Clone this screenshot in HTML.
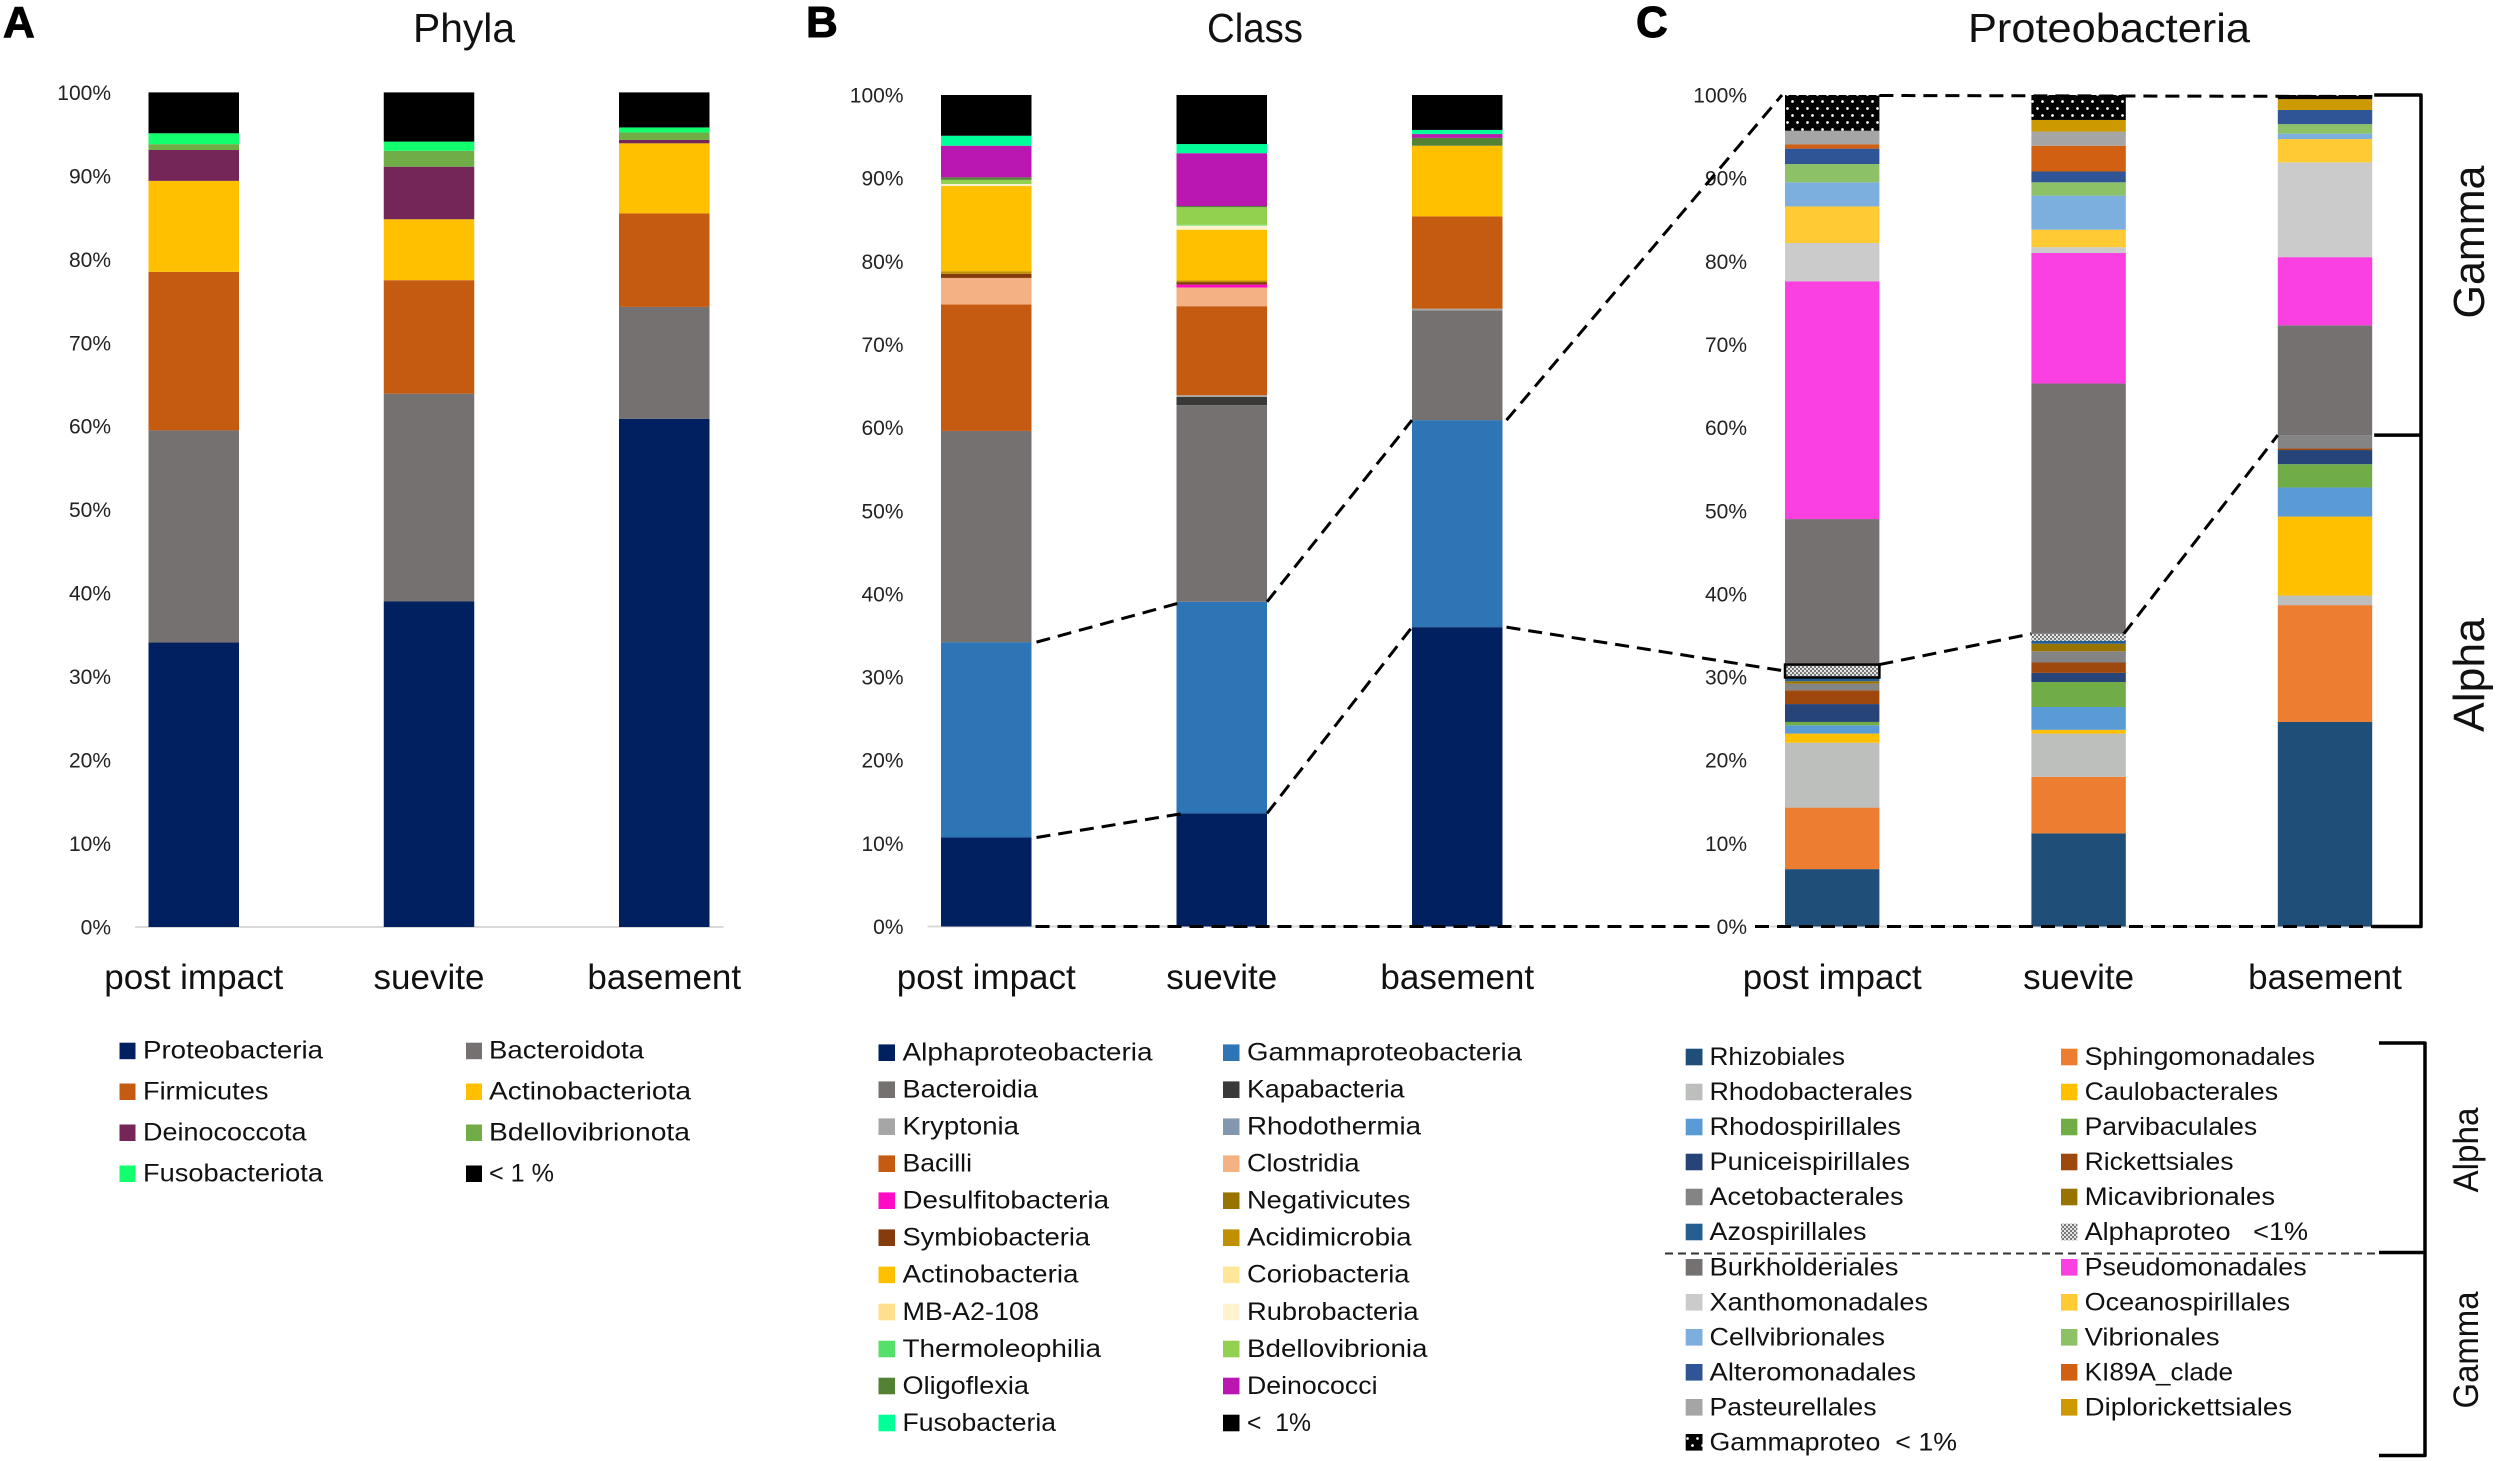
<!DOCTYPE html>
<html lang="en">
<head>
<meta charset="utf-8">
<title>Phyla, Class and Proteobacteria stacked bars</title>
<style>
html,body{margin:0;padding:0;background:#fff;width:2500px;height:1461px;overflow:hidden}
svg{display:block;font-family:"Liberation Sans",sans-serif;fill:#000}
.lt{font-size:25px;white-space:pre;fill:#111}
.tick{font-size:21px;fill:#222;text-anchor:end}
.cat{font-size:35px;fill:#111;text-anchor:middle}
.title{font-size:41px;fill:#111;text-anchor:middle}
.letter{font-size:44px;font-weight:bold;stroke:#000;stroke-width:1}
.side{fill:#111}
.conn{stroke:#000;stroke-width:3;stroke-dasharray:14 8;fill:none}
.brk{stroke:#000;stroke-width:3.5;fill:none;stroke-linejoin:round}
</style>
</head>
<body>
<svg id="figure" width="2500" height="1461" viewBox="0 0 2500 1461" xmlns="http://www.w3.org/2000/svg">
<defs>
<pattern id="alphaPattern" width="4" height="4" patternUnits="userSpaceOnUse">
<rect width="4" height="4" fill="#e4e4e4"/><rect width="2" height="2" fill="#777"/><rect x="2" y="2" width="2" height="2" fill="#777"/>
</pattern>
<pattern id="gammaPattern" width="10" height="14" patternUnits="userSpaceOnUse">
<rect width="10" height="14" fill="#000"/><circle cx="2.5" cy="3.5" r="1.35" fill="#fff"/><circle cx="7.5" cy="10.5" r="1.35" fill="#fff"/>
</pattern>
</defs>
<rect width="2500" height="1461" fill="#fff"/>

<text class="letter" x="3" y="37">A</text>
<text class="letter" x="806" y="37">B</text>
<text class="letter" x="1636" y="37">C</text>
<text class="title" x="464" y="42" textLength="102" lengthAdjust="spacingAndGlyphs">Phyla</text>
<text class="title" x="1255" y="42" textLength="96" lengthAdjust="spacingAndGlyphs">Class</text>
<text class="title" x="2109" y="42" textLength="282" lengthAdjust="spacingAndGlyphs">Proteobacteria</text>

<g id="chart-a"></g>
<g id="chart-b"></g>
<g id="chart-c"></g>
<g id="connectors"></g>

<text class="side" font-size="44" text-anchor="middle" transform="translate(2484 242) rotate(-90)" textLength="153" lengthAdjust="spacingAndGlyphs">Gamma</text>
<text class="side" font-size="44" text-anchor="middle" transform="translate(2484 675) rotate(-90)" textLength="114" lengthAdjust="spacingAndGlyphs">Alpha</text>

<g>
<g><rect x="119.5" y="1042.7" width="16" height="16.5" fill="#002060"/><text class="lt" x="143" y="1058.5" textLength="180" lengthAdjust="spacingAndGlyphs">Proteobacteria</text></g>
<g><rect x="119.5" y="1083.5" width="16" height="16.5" fill="#C55A11"/><text class="lt" x="143" y="1099.5" textLength="125.5" lengthAdjust="spacingAndGlyphs">Firmicutes</text></g>
<g><rect x="119.5" y="1124.5" width="16" height="16.5" fill="#732657"/><text class="lt" x="143" y="1140.5" textLength="163.5" lengthAdjust="spacingAndGlyphs">Deinococcota</text></g>
<g><rect x="119.5" y="1165.5" width="16" height="16.5" fill="#12FF6E"/><text class="lt" x="143" y="1181.5" textLength="180" lengthAdjust="spacingAndGlyphs">Fusobacteriota</text></g>
<g><rect x="466" y="1042.7" width="16" height="16.5" fill="#767171"/><text class="lt" x="489" y="1058.5" textLength="155" lengthAdjust="spacingAndGlyphs">Bacteroidota</text></g>
<g><rect x="466" y="1083.5" width="16" height="16.5" fill="#FFC000"/><text class="lt" x="489" y="1099.5" textLength="202" lengthAdjust="spacingAndGlyphs">Actinobacteriota</text></g>
<g><rect x="466" y="1124.5" width="16" height="16.5" fill="#70AD47"/><text class="lt" x="489" y="1140.5" textLength="201" lengthAdjust="spacingAndGlyphs">Bdellovibrionota</text></g>
<g><rect x="466" y="1165.5" width="16" height="16.5" fill="#000"/><text class="lt" x="489" y="1181.5" textLength="65" lengthAdjust="spacingAndGlyphs">&lt; 1 %</text></g>
</g>

<g>
<g><rect x="878.5" y="1044.4" width="16.5" height="16.6" fill="#002060"/><text class="lt" x="902.5" y="1060.5" textLength="250" lengthAdjust="spacingAndGlyphs">Alphaproteobacteria</text></g>
<g><rect x="878.5" y="1081.4" width="16.5" height="16.6" fill="#767171"/><text class="lt" x="902.5" y="1097.5" textLength="135.5" lengthAdjust="spacingAndGlyphs">Bacteroidia</text></g>
<g><rect x="878.5" y="1118.4" width="16.5" height="16.6" fill="#A6A6A6"/><text class="lt" x="902.5" y="1134.5" textLength="116.5" lengthAdjust="spacingAndGlyphs">Kryptonia</text></g>
<g><rect x="878.5" y="1155.4" width="16.5" height="16.6" fill="#C55A11"/><text class="lt" x="902.5" y="1171.5" textLength="69.5" lengthAdjust="spacingAndGlyphs">Bacilli</text></g>
<g><rect x="878.5" y="1192.4" width="16.5" height="16.6" fill="#FF0BC6"/><text class="lt" x="902.5" y="1208.5" textLength="206.5" lengthAdjust="spacingAndGlyphs">Desulfitobacteria</text></g>
<g><rect x="878.5" y="1229.4" width="16.5" height="16.6" fill="#843C0C"/><text class="lt" x="902.5" y="1245.5" textLength="187.5" lengthAdjust="spacingAndGlyphs">Symbiobacteria</text></g>
<g><rect x="878.5" y="1266.6" width="16.5" height="16.6" fill="#FFC000"/><text class="lt" x="902.5" y="1282.7" textLength="176" lengthAdjust="spacingAndGlyphs">Actinobacteria</text></g>
<g><rect x="878.5" y="1303.7" width="16.5" height="16.6" fill="#FFE08F"/><text class="lt" x="902.5" y="1319.8" textLength="136.5" lengthAdjust="spacingAndGlyphs">MB-A2-108</text></g>
<g><rect x="878.5" y="1340.7" width="16.5" height="16.6" fill="#55E06A"/><text class="lt" x="902.5" y="1356.8" textLength="198.5" lengthAdjust="spacingAndGlyphs">Thermoleophilia</text></g>
<g><rect x="878.5" y="1377.7" width="16.5" height="16.6" fill="#548235"/><text class="lt" x="902.5" y="1393.8" textLength="126.5" lengthAdjust="spacingAndGlyphs">Oligoflexia</text></g>
<g><rect x="878.5" y="1414.7" width="16.5" height="16.6" fill="#00FF99"/><text class="lt" x="902.5" y="1430.8" textLength="153.5" lengthAdjust="spacingAndGlyphs">Fusobacteria</text></g>
<g><rect x="1223" y="1044.4" width="16.5" height="16.6" fill="#2E75B6"/><text class="lt" x="1247" y="1060.5" textLength="275" lengthAdjust="spacingAndGlyphs">Gammaproteobacteria</text></g>
<g><rect x="1223" y="1081.4" width="16.5" height="16.6" fill="#3B3838"/><text class="lt" x="1247" y="1097.5" textLength="157.5" lengthAdjust="spacingAndGlyphs">Kapabacteria</text></g>
<g><rect x="1223" y="1118.4" width="16.5" height="16.6" fill="#8497B0"/><text class="lt" x="1247" y="1134.5" textLength="174" lengthAdjust="spacingAndGlyphs">Rhodothermia</text></g>
<g><rect x="1223" y="1155.4" width="16.5" height="16.6" fill="#F4B183"/><text class="lt" x="1247" y="1171.5" textLength="112.5" lengthAdjust="spacingAndGlyphs">Clostridia</text></g>
<g><rect x="1223" y="1192.4" width="16.5" height="16.6" fill="#997300"/><text class="lt" x="1247" y="1208.5" textLength="163.5" lengthAdjust="spacingAndGlyphs">Negativicutes</text></g>
<g><rect x="1223" y="1229.4" width="16.5" height="16.6" fill="#BF9000"/><text class="lt" x="1247" y="1245.5" textLength="164.5" lengthAdjust="spacingAndGlyphs">Acidimicrobia</text></g>
<g><rect x="1223" y="1266.6" width="16.5" height="16.6" fill="#FFE699"/><text class="lt" x="1247" y="1282.7" textLength="162.5" lengthAdjust="spacingAndGlyphs">Coriobacteria</text></g>
<g><rect x="1223" y="1303.7" width="16.5" height="16.6" fill="#FFF2CC"/><text class="lt" x="1247" y="1319.8" textLength="171.5" lengthAdjust="spacingAndGlyphs">Rubrobacteria</text></g>
<g><rect x="1223" y="1340.7" width="16.5" height="16.6" fill="#92D050"/><text class="lt" x="1247" y="1356.8" textLength="180.5" lengthAdjust="spacingAndGlyphs">Bdellovibrionia</text></g>
<g><rect x="1223" y="1377.7" width="16.5" height="16.6" fill="#B917B0"/><text class="lt" x="1247" y="1393.8" textLength="130.5" lengthAdjust="spacingAndGlyphs">Deinococci</text></g>
<g><rect x="1223" y="1414.7" width="16.5" height="16.6" fill="#000"/><text class="lt" x="1247" y="1430.8" textLength="64" lengthAdjust="spacingAndGlyphs">&lt;  1%</text></g>
</g>

<g>
<g><rect x="1685.7" y="1048.7" width="16.8" height="16.6" fill="#1F4E79"/><text class="lt" x="1709.5" y="1065" textLength="135.5" lengthAdjust="spacingAndGlyphs">Rhizobiales</text></g>
<g><rect x="1685.7" y="1083.7" width="16.8" height="16.6" fill="#BDBFBD"/><text class="lt" x="1709.5" y="1100" textLength="203" lengthAdjust="spacingAndGlyphs">Rhodobacterales</text></g>
<g><rect x="1685.7" y="1118.7" width="16.8" height="16.6" fill="#5B9BD5"/><text class="lt" x="1709.5" y="1135" textLength="191.5" lengthAdjust="spacingAndGlyphs">Rhodospirillales</text></g>
<g><rect x="1685.7" y="1153.7" width="16.8" height="16.6" fill="#264478"/><text class="lt" x="1709.5" y="1170" textLength="200.5" lengthAdjust="spacingAndGlyphs">Puniceispirillales</text></g>
<g><rect x="1685.7" y="1188.7" width="16.8" height="16.6" fill="#848484"/><text class="lt" x="1709.5" y="1205" textLength="194" lengthAdjust="spacingAndGlyphs">Acetobacterales</text></g>
<g><rect x="1685.7" y="1223.7" width="16.8" height="16.6" fill="#255E91"/><text class="lt" x="1709.5" y="1240" textLength="157" lengthAdjust="spacingAndGlyphs">Azospirillales</text></g>
<g><rect x="1685.7" y="1259" width="16.8" height="16.6" fill="#767171"/><text class="lt" x="1709.5" y="1275.3" textLength="189" lengthAdjust="spacingAndGlyphs">Burkholderiales</text></g>
<g><rect x="1685.7" y="1294" width="16.8" height="16.6" fill="#CBCBCB"/><text class="lt" x="1709.5" y="1310.3" textLength="218.5" lengthAdjust="spacingAndGlyphs">Xanthomonadales</text></g>
<g><rect x="1685.7" y="1329" width="16.8" height="16.6" fill="#7CAFDD"/><text class="lt" x="1709.5" y="1345.3" textLength="175.5" lengthAdjust="spacingAndGlyphs">Cellvibrionales</text></g>
<g><rect x="1685.7" y="1364" width="16.8" height="16.6" fill="#2F5597"/><text class="lt" x="1709.5" y="1380.3" textLength="206.5" lengthAdjust="spacingAndGlyphs">Alteromonadales</text></g>
<g><rect x="1685.7" y="1399" width="16.8" height="16.6" fill="#A5A5A5"/><text class="lt" x="1709.5" y="1415.3" textLength="167" lengthAdjust="spacingAndGlyphs">Pasteurellales</text></g>
<g><rect x="1685.7" y="1434" width="16.8" height="16.6" fill="url(#gammaPattern)"/><text class="lt" x="1709.5" y="1450.3" textLength="247.5" lengthAdjust="spacingAndGlyphs">Gammaproteo  &lt; 1%</text></g>
<g><rect x="2061" y="1048.7" width="16.4" height="16.6" fill="#ED7D31"/><text class="lt" x="2084.6" y="1065" textLength="230.5" lengthAdjust="spacingAndGlyphs">Sphingomonadales</text></g>
<g><rect x="2061" y="1083.7" width="16.4" height="16.6" fill="#FFC000"/><text class="lt" x="2084.6" y="1100" textLength="193.5" lengthAdjust="spacingAndGlyphs">Caulobacterales</text></g>
<g><rect x="2061" y="1118.7" width="16.4" height="16.6" fill="#70AD47"/><text class="lt" x="2084.6" y="1135" textLength="172.5" lengthAdjust="spacingAndGlyphs">Parvibaculales</text></g>
<g><rect x="2061" y="1153.7" width="16.4" height="16.6" fill="#9E480E"/><text class="lt" x="2084.6" y="1170" textLength="149" lengthAdjust="spacingAndGlyphs">Rickettsiales</text></g>
<g><rect x="2061" y="1188.7" width="16.4" height="16.6" fill="#997300"/><text class="lt" x="2084.6" y="1205" textLength="190.5" lengthAdjust="spacingAndGlyphs">Micavibrionales</text></g>
<g><rect x="2061" y="1223.7" width="16.4" height="16.6" fill="url(#alphaPattern)"/><text class="lt" x="2084.6" y="1240" textLength="223.5" lengthAdjust="spacingAndGlyphs">Alphaproteo   &lt;1%</text></g>
<g><rect x="2061" y="1259" width="16.4" height="16.6" fill="#FA40E0"/><text class="lt" x="2084.6" y="1275.3" textLength="222" lengthAdjust="spacingAndGlyphs">Pseudomonadales</text></g>
<g><rect x="2061" y="1294" width="16.4" height="16.6" fill="#FFCA33"/><text class="lt" x="2084.6" y="1310.3" textLength="205.5" lengthAdjust="spacingAndGlyphs">Oceanospirillales</text></g>
<g><rect x="2061" y="1329" width="16.4" height="16.6" fill="#8CC168"/><text class="lt" x="2084.6" y="1345.3" textLength="135" lengthAdjust="spacingAndGlyphs">Vibrionales</text></g>
<g><rect x="2061" y="1364" width="16.4" height="16.6" fill="#D26012"/><text class="lt" x="2084.6" y="1380.3" textLength="148.5" lengthAdjust="spacingAndGlyphs">KI89A_clade</text></g>
<g><rect x="2061" y="1399" width="16.4" height="16.6" fill="#CC9900"/><text class="lt" x="2084.6" y="1415.3" textLength="207.5" lengthAdjust="spacingAndGlyphs">Diplorickettsiales</text></g>
<line x1="1665" y1="1253.5" x2="2378" y2="1253.5" stroke="#333" stroke-width="2" stroke-dasharray="8 5"/>
<path class="brk" d="M2379 1043H2425V1455.5H2379M2379 1252.5H2425"/>
<text class="side" font-size="35" text-anchor="middle" transform="translate(2478 1150) rotate(-90)" textLength="85" lengthAdjust="spacingAndGlyphs">Alpha</text>
<text class="side" font-size="35" text-anchor="middle" transform="translate(2478 1350) rotate(-90)" textLength="117" lengthAdjust="spacingAndGlyphs">Gamma</text>
</g>
</svg>

<script>
const categories = ['post impact', 'suevite', 'basement'];
const yTickValues = [0, 10, 20, 30, 40, 50, 60, 70, 80, 90, 100];

const phylaSeries = ['Proteobacteria', 'Bacteroidota', 'Firmicutes', 'Actinobacteriota', 'Deinococcota', 'Bdellovibrionota', 'Fusobacteriota', 'below 1 percent'];
const phylaPostImpact = [34.1, 25.4, 19, 10.9, 3.7, 0.7, 1.3, 4.9];
const phylaSuevite = [39, 24.9, 13.6, 7.3, 6.3, 1.9, 1.1, 5.9];
const phylaBasement = [60.9, 13.4, 11.2, 8.4, 0.4, 0.9, 0.6, 4.2];
const phylaColors = ['#002060', '#767171', '#C55A11', '#FFC000', '#732657', '#70AD47', '#12FF6E', '#000000'];

const classSeries = ['Alphaproteobacteria', 'Gammaproteobacteria', 'Bacteroidia', 'Kapabacteria', 'Kryptonia', 'Rhodothermia', 'Bacilli', 'Clostridia', 'Desulfitobacteria', 'Negativicutes', 'Symbiobacteria', 'Acidimicrobia', 'Actinobacteria', 'Coriobacteria', 'MB-A2-108', 'Rubrobacteria', 'Thermoleophilia', 'Bdellovibrionia', 'Oligoflexia', 'Deinococci', 'Fusobacteria', 'below 1 percent'];
const classPostImpact = [10.7, 23.5, 25.4, 0, 0, 0, 15.2, 3.2, 0, 0, 0.5, 0.3, 10.25, 0, 0, 0.25, 0, 0.5, 0.3, 3.8, 1.2, 4.9];
const classSuevite = [13.6, 25.45, 23.65, 1, 0.2, 0, 10.7, 2.25, 0.35, 0, 0.3, 0.2, 6.1, 0, 0, 0.5, 0.1, 2.1, 0.15, 6.35, 1.1, 5.9];
const classBasement = [36, 24.9, 13.2, 0, 0.2, 0, 11.1, 0, 0, 0, 0, 0, 8.5, 0, 0, 0, 0, 0, 0.95, 0.45, 0.5, 4.2];
const classColors = ['#002060', '#2E75B6', '#767171', '#3B3838', '#A6A6A6', '#8497B0', '#C55A11', '#F4B183', '#FF0BC6', '#997300', '#843C0C', '#BF9000', '#FFC000', '#FFE699', '#FFE08F', '#FFF2CC', '#55E06A', '#92D050', '#548235', '#B917B0', '#00FF99', '#000000'];

const orderSeries = ['Rhizobiales', 'Sphingomonadales', 'Rhodobacterales', 'Caulobacterales', 'Rhodospirillales', 'Parvibaculales', 'Puniceispirillales', 'Rickettsiales', 'Acetobacterales', 'Micavibrionales', 'Azospirillales', 'Alphaproteo below 1 percent', 'Burkholderiales', 'Pseudomonadales', 'Xanthomonadales', 'Oceanospirillales', 'Cellvibrionales', 'Vibrionales', 'Alteromonadales', 'KI89A clade', 'Pasteurellales', 'Diplorickettsiales', 'Gammaproteo below 1 percent'];
const orderPostImpact = [6.9, 7.4, 7.8, 1.1, 1, 0.4, 2.15, 1.65, 0.8, 0.3, 0.45, 1.55, 17.5, 28.6, 4.6, 4.4, 2.9, 2.2, 1.85, 0.5, 1.65, 0, 4.3];
const orderSuevite = [11.2, 6.8, 5.2, 0.45, 2.75, 3, 1.1, 1.25, 1.35, 0.9, 0.35, 0.85, 30.1, 15.7, 0.7, 2.1, 4.1, 1.6, 1.3, 3.1, 1.7, 1.4, 3];
const orderBasement = [24.6, 14.05, 1.15, 9.5, 3.5, 2.8, 1.7, 0.2, 1.6, 0, 0, 0, 13.2, 8.2, 11.4, 2.8, 0.65, 1.15, 1.7, 0, 0, 1.3, 0.5];
const orderColors = ['#1F4E79', '#ED7D31', '#BDBFBD', '#FFC000', '#5B9BD5', '#70AD47', '#264478', '#9E480E', '#848484', '#997300', '#255E91', 'url(#alphaPattern)', '#767171', '#FA40E0', '#CBCBCB', '#FFCA33', '#7CAFDD', '#8CC168', '#2F5597', '#D26012', '#A5A5A5', '#CC9900', 'url(#gammaPattern)'];

const SVG_NS = 'http://www.w3.org/2000/svg';

function makeYScale(base, top) {
  return function (percent) { return base - percent * (base - top) / 100; };
}
function makeXScale(start, step) {
  return function (index) { return start + index * step; };
}
function stackTop(row, count) {
  let total = 0;
  for (let k = 0; k < count; k++) { total += row[k]; }
  return total;
}
function shape(tag, parent) {
  const el = document.createElementNS(SVG_NS, tag);
  parent.appendChild(el);
  return el;
}
function slug(text) {
  return text.toLowerCase().replace(/[^a-z0-9]+/g, '-');
}

function drawChart(opts) {
  const root = document.getElementById(opts.rootId);
  const y = opts.y;
  const x = opts.x;

  const axis = shape('line', root);
  
  
  axis.setAttribute('x1', opts.axisStart);
  axis.setAttribute('x2', opts.axisEnd);
  axis.setAttribute('y1', y(0));
  axis.setAttribute('y2', y(0));
  axis.setAttribute('stroke', '#d9d9d9');
  axis.setAttribute('stroke-width', 2);

  yTickValues.forEach(function (tick) {
    const label = shape('text', root);
    
    
    label.setAttribute('class', 'tick');
    label.setAttribute('x', opts.tickRight);
    label.setAttribute('y', y(tick) + 7.5);
    label.textContent = tick + '%';
  });

  opts.rows.forEach(function (row, c) {
    let running = 0;
    row.forEach(function (value, s) {
      if (value <= 0) { return; }
      const bar = shape('rect', root);
      
      
      bar.setAttribute('x', x(c));
      bar.setAttribute('width', opts.barWidth);
      bar.setAttribute('y', y(running + value));
      bar.setAttribute('height', y(running) - y(running + value));
      bar.setAttribute('fill', opts.colors[s]);
      running += value;
    });
    const cat = shape('text', root);
    
    
    cat.setAttribute('class', 'cat');
    cat.setAttribute('x', x(c) + opts.barWidth / 2);
    cat.setAttribute('y', 989);
    cat.textContent = categories[c];
  });
}

const yA = makeYScale(927, 92.4);
const xA = makeXScale(148.5, 235.25);
const yB = makeYScale(926.5, 95);
const xB = makeXScale(941, 235.5);
const yC = makeYScale(926.5, 95);
const xC = makeXScale(1785, 246.4);
const widthA = 90.5;
const widthB = 90.5;
const widthC = 94.4;
const classRows = [classPostImpact, classSuevite, classBasement];
const orderRows = [orderPostImpact, orderSuevite, orderBasement];

drawChart({ rootId: 'chart-a', prefix: 'phyla', y: yA, x: xA, barWidth: widthA, axisStart: 135, axisEnd: 723.5, tickRight: 111, series: phylaSeries, colors: phylaColors, rows: [phylaPostImpact, phylaSuevite, phylaBasement] });
drawChart({ rootId: 'chart-b', prefix: 'class', y: yB, x: xB, barWidth: widthB, axisStart: 927.5, axisEnd: 1516, tickRight: 903.5, series: classSeries, colors: classColors, rows: classRows });
drawChart({ rootId: 'chart-c', prefix: 'order', y: yC, x: xC, barWidth: widthC, axisStart: 1770, axisEnd: 2390, tickRight: 1747, series: orderSeries, colors: orderColors, rows: orderRows });

const connectorRoot = document.getElementById('connectors');
const alphaCount = 12;

function connector(name, x1, y1, x2, y2) {
  const line = shape('line', connectorRoot);
  
  
  line.setAttribute('class', 'conn');
  line.setAttribute('x1', x1);
  line.setAttribute('y1', y1);
  line.setAttribute('x2', x2);
  line.setAttribute('y2', y2);
}

[2, 1].forEach(function (count) {
  const band = count === 2 ? 'gamma-upper' : 'gamma-lower';
  connector(band + '-connector-post-to-suevite', xB(0) + widthB + 5, yB(stackTop(classRows[0], count)), xB(1) + 7, yB(stackTop(classRows[1], count)));
  connector(band + '-connector-suevite-to-basement', xB(1) + widthB, yB(stackTop(classRows[1], count)), xB(2), yB(stackTop(classRows[2], count)));
});
connector('gamma-connector-class-to-proteobacteria', xB(2) + widthB + 4, yB(stackTop(classRows[2], 2)), xC(0) - 3, yC(100));
connector('alpha-connector-class-to-proteobacteria', xB(2) + widthB + 4, yB(stackTop(classRows[2], 1)), xC(0), yC((stackTop(orderRows[0], alphaCount) + stackTop(orderRows[0], alphaCount - 1)) / 2));
connector('alpha-connector-post-to-suevite', xC(0) + widthC, yC(stackTop(orderRows[0], alphaCount)), xC(1), yC(stackTop(orderRows[1], alphaCount)));
connector('alpha-connector-suevite-to-basement', xC(1) + widthC - 2, yC(stackTop(orderRows[1], alphaCount)), xC(2), yC(stackTop(orderRows[2], alphaCount)));
connector('top-connector', xC(0) + widthC, yC(100) + 0.5, xC(2) + widthC, yC(100) + 1.5);
connector('bottom-connector-class', xB(0) + widthB + 4, yB(0), 1712, yB(0));
connector('bottom-connector-proteobacteria', xC(0) - 30, yC(0), xC(2) + widthC, yC(0));

const alphaBox = shape('rect', connectorRoot);


alphaBox.setAttribute('x', xC(0));
alphaBox.setAttribute('y', yC(stackTop(orderRows[0], alphaCount)));
alphaBox.setAttribute('width', widthC);
alphaBox.setAttribute('height', yC(stackTop(orderRows[0], alphaCount - 1)) - yC(stackTop(orderRows[0], alphaCount)));
alphaBox.setAttribute('fill', 'none');
alphaBox.setAttribute('stroke', '#000');
alphaBox.setAttribute('stroke-width', 2.5);

const bracket = shape('path', connectorRoot);


bracket.setAttribute('class', 'brk');
bracket.setAttribute('d', 'M' + (xC(2) + widthC + 2) + ' ' + yC(100) + 'H2421V' + yC(0) + 'H' + (xC(2) + widthC) + 'M' + (xC(2) + widthC + 2) + ' ' + yC(stackTop(orderRows[2], alphaCount)) + 'H2421');
</script>
</body>
</html>
